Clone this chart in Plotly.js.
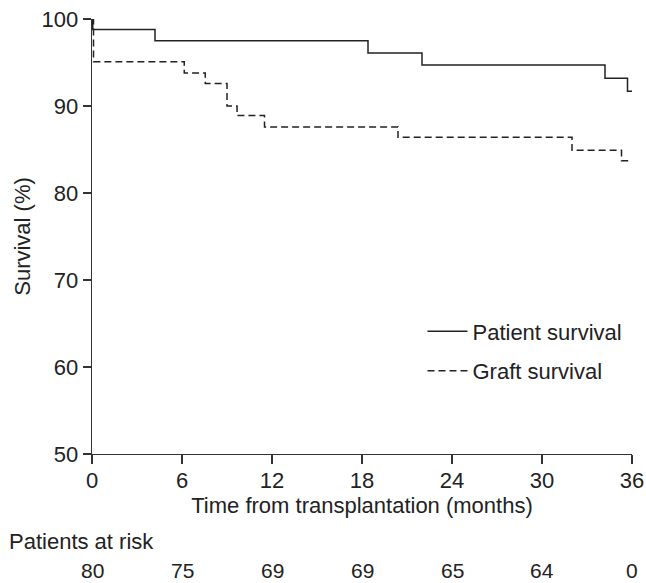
<!DOCTYPE html>
<html>
<head>
<meta charset="utf-8">
<script src="https://cdn.plot.ly/plotly-3.0.1.min.js"></script>
<style>html,body{margin:0;padding:0;background:#fff;}#chart{width:646px;height:583px;}</style>
</head>
<body>
<div id="chart"></div>
<script>
// Patient survival (Kaplan-Meier steps)
var patientMonths = [0, 0.05, 4.2, 18.4, 22.0, 34.2, 35.7, 36];
var patientSurvival = [100, 98.8, 97.5, 96.1, 94.7, 93.2, 91.7, 91.7];
// Graft survival
var graftMonths = [0, 0.1, 6.15, 7.55, 9.0, 9.67, 11.5, 20.4, 32.0, 35.3, 36];
var graftSurvival = [100, 95.1, 93.8, 92.6, 90.0, 88.9, 87.6, 86.4, 84.9, 83.7, 83.7];
// Patients at risk
var riskMonths = [0, 6, 12, 18, 24, 30, 36];
var riskCounts = ["80", "75", "69", "69", "65", "64", "0"];
var xTicks = [0, 6, 12, 18, 24, 30, 36];
var yTicks = [50, 60, 70, 80, 90, 100];

var FONT = "Liberation Sans, Arial, Helvetica, sans-serif";
var INK = "#222222";

var traces = [
  {x: patientMonths, y: patientSurvival, type: "scatter", mode: "lines",
   line: {shape: "hv", color: INK, width: 1.5}, name: "Patient survival", legendgroup: "a"},
  {x: graftMonths, y: graftSurvival, type: "scatter", mode: "lines",
   line: {shape: "hv", color: INK, width: 1.5, dash: "7px,4px"}, name: "Graft survival", legendgroup: "b"}
];

var annotations = riskMonths.map(function (m, i) {
  return {x: m, y: -0.268, xref: "x", yref: "paper", text: riskCounts[i],
          showarrow: false, xanchor: "center", yanchor: "middle",
          font: {family: FONT, size: 21, color: INK}};
});
annotations.push({x: -0.158, y: -0.201, xref: "paper", yref: "paper", text: "Patients at risk",
  showarrow: false, xanchor: "left", yanchor: "middle", font: {family: FONT, size: 22, color: INK}});

var layout = {
  width: 646, height: 583,
  margin: {l: 92, r: 14, t: 19, b: 129},
  paper_bgcolor: "#ffffff", plot_bgcolor: "#ffffff",
  font: {family: FONT, size: 22, color: INK},
  showlegend: true,
  legend: {x: 0.612, y: 0.33, xanchor: "left", yanchor: "top", bgcolor: "rgba(0,0,0,0)", itemwidth: 40,
           font: {family: FONT, size: 22, color: INK}, traceorder: "grouped", tracegroupgap: 8},
  xaxis: {range: [0, 36], tickvals: xTicks, ticktext: xTicks.map(String), showgrid: false, zeroline: false,
          showline: true, linecolor: "#333", linewidth: 1.3, ticks: "outside", ticklen: 9, tickwidth: 1.3,
          tickcolor: "#333", tickfont: {family: FONT, size: 22, color: INK}, ticklabelstandoff: -3,
          title: {text: "Time from transplantation (months)", font: {family: FONT, size: 22, color: INK}, standoff: 5}},
  yaxis: {range: [50, 100], tickvals: yTicks, ticktext: yTicks.map(String), showgrid: false, zeroline: false,
          showline: true, linecolor: "#333", linewidth: 1.3, ticks: "outside", ticklen: 8, tickwidth: 1.3,
          tickcolor: "#333", tickfont: {family: FONT, size: 22, color: INK},
          title: {text: "Survival (%)", font: {family: FONT, size: 22, color: INK}, standoff: 5}},
  annotations: annotations
};

Plotly.newPlot("chart", traces, layout, {displayModeBar: false, staticPlot: true});
</script>
</body>
</html>
